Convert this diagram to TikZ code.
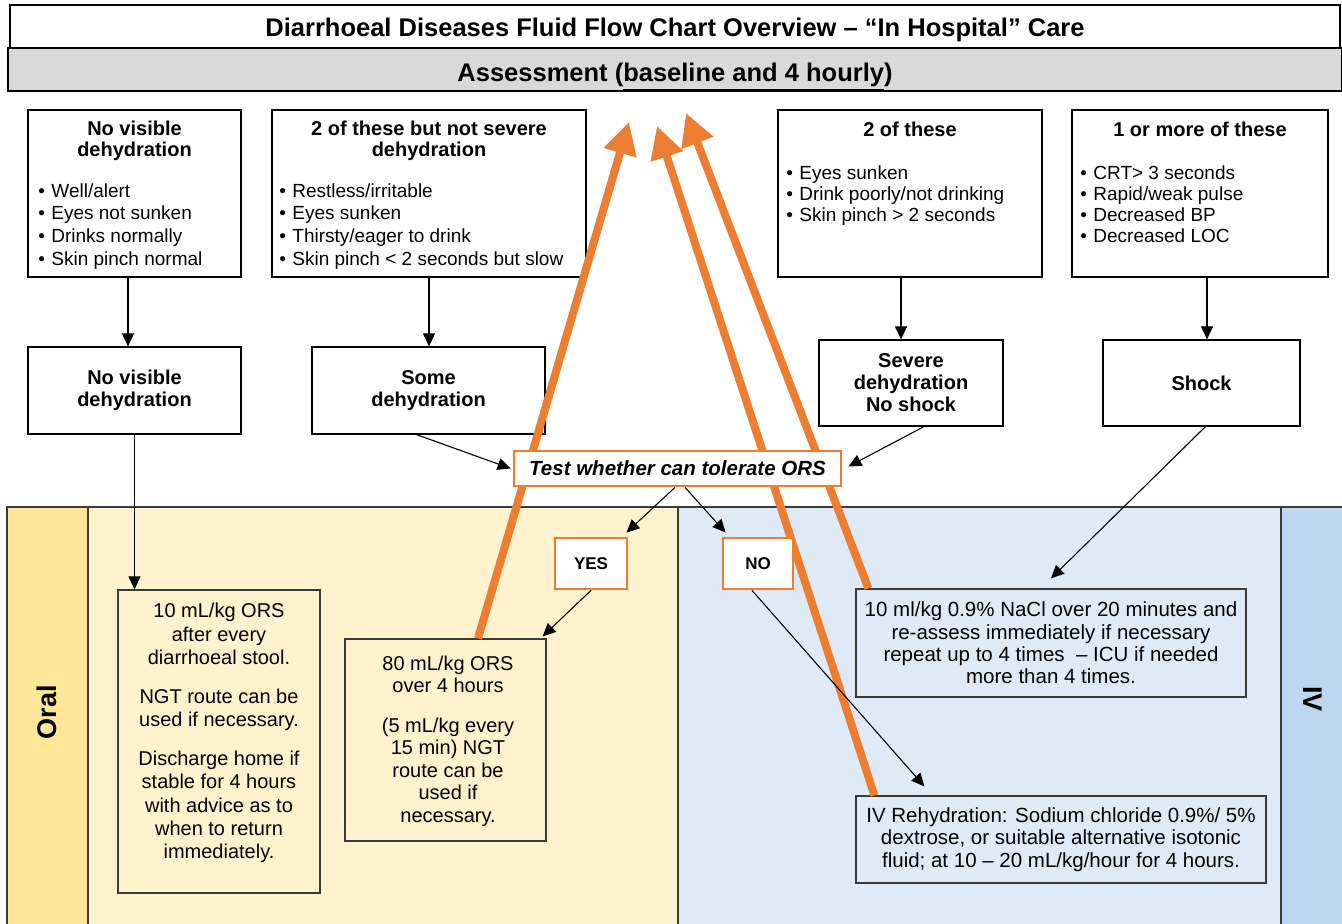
\documentclass[tikz,border=0pt]{standalone}
\usepackage{fontspec}
\setmainfont{Liberation Sans}
\usetikzlibrary{arrows.meta}
\definecolor{orng}{HTML}{ED7D31}
\definecolor{oralstrip}{HTML}{FFE699}
\definecolor{oralbg}{HTML}{FFF2CC}
\definecolor{ivbg}{HTML}{DEEBF7}
\definecolor{ivstrip}{HTML}{BDD7EE}
\definecolor{barfill}{HTML}{D9D9D9}
\definecolor{edge}{HTML}{3A3A3A}
\newcommand{\fsz}[2]{\fontsize{#1}{#2}\selectfont}
\newcommand{\bul}{\makebox[6.5pt][l]{\textbullet}}
\begin{document}
\begin{tikzpicture}[x=0.5pt,y=-0.5pt,
  frame/.style={draw=black, line width=0.6pt, inner sep=0pt},
  pbox/.style={draw=edge, line width=0.6pt, inner sep=0pt},
  obox/.style={draw=orng, line width=1.4pt, fill=white, inner sep=0pt},
  conn/.style={draw=black, line width=0.55pt, -{Triangle[length=6.5pt,width=6pt]}},
  back/.style={draw=orng, line width=4pt, -{Triangle[length=16pt,width=16pt]}},
  head/.style={align=center, font=\fsz{10pt}{10.5pt}\bfseries, inner sep=0pt},
  lstA/.style={align=left, anchor=north west, inner sep=0pt, font=\fsz{9.5pt}{11.35pt}},
  lstC/.style={align=left, anchor=north west, inner sep=0pt, font=\fsz{9.5pt}{10.5pt}},
  statebox/.style={frame, align=center, font=\fsz{10pt}{11pt}\bfseries},
  body/.style={align=center, inner sep=0pt},
]
\useasboundingbox (0,0) rectangle (1342,924);
\fill[white] (0,0) rectangle (1342,924);

% lower panels
\fill[oralstrip] (7,507) rectangle (88,924);
\fill[oralbg] (88,507) rectangle (678,924);
\fill[ivbg] (678,507) rectangle (1281,924);
\fill[ivstrip] (1281,507) rectangle (1342,924);
\draw[edge, line width=0.6pt] (7,924) -- (7,507) -- (1342,507);
\draw[edge, line width=0.6pt] (88,507) -- (88,924) (678,507) -- (678,924) (1281,507) -- (1281,924);
\node[rotate=90, font=\fsz{13.5pt}{16pt}\bfseries] (oral) at (47,712) {Oral};
\node[rotate=-90, font=\fsz{13.5pt}{16pt}\bfseries] (iv) at (1313,699) {IV};

% header
\node[frame, fill=white, minimum width=665pt, minimum height=21.5pt, text height=10.2pt, text depth=0pt, font=\fsz{12.75pt}{15pt}\bfseries] (title) at (675,26.5) {Diarrhoeal Diseases Fluid Flow Chart Overview – “In Hospital” Care};
\node[frame, fill=barfill, minimum width=667pt, minimum height=21.5pt, text height=11.7pt, text depth=0pt, font=\fsz{12.75pt}{15pt}\bfseries] (assess) at (675,69.5) {Assessment (\underline{baseline and 4 hourly})};

% criteria boxes
\node[frame, minimum width=106.5pt, minimum height=83.5pt] (A) at (134.5,193.5) {};
\node[head] (Ah) at (134.5,141) {No visible\\dehydration};
\node[lstA] (Al) at (38,183) {\bul Well/alert\\\bul Eyes not sunken\\\bul Drinks normally\\\bul Skin pinch normal};

\node[frame, minimum width=157pt, minimum height=83.5pt] (B) at (429,193.5) {};
\node[head] (Bh) at (429,141) {2 of these but not severe\\dehydration};
\node[lstA] (Bl) at (279,183) {\bul Restless/irritable\\\bul Eyes sunken\\\bul Thirsty/eager to drink\\\bul Skin pinch {<} 2 seconds but slow};

\node[frame, minimum width=132pt, minimum height=83.5pt] (C) at (910,193.5) {};
\node[head] (Ch) at (910,129) {2 of these};
\node[lstC] (Cl) at (786,165) {\bul Eyes sunken\\\bul Drink poorly/not drinking\\\bul Skin pinch {>} 2 seconds};

\node[frame, minimum width=128pt, minimum height=83.5pt] (D) at (1200,193.5) {};
\node[head] (Dh) at (1200,129) {1 or more of these};
\node[lstC] (Dl) at (1080,165) {\bul CRT{>} 3 seconds\\\bul Rapid/weak pulse\\\bul Decreased BP\\\bul Decreased LOC};

% state boxes
\node[statebox, minimum width=106.5pt, minimum height=43.5pt] (E) at (134.5,390.5) {No visible\\dehydration};
\node[statebox, minimum width=116.5pt, minimum height=43.5pt] (F) at (428.5,390.5) {Some\\dehydration};
\node[statebox, minimum width=92pt, minimum height=43pt] (G) at (911,383) {Severe\\dehydration\\No shock};
\node[statebox, minimum width=98.5pt, minimum height=43pt] (H) at (1201.5,383) {Shock};

% treatment boxes
\node[pbox, fill=oralbg, minimum width=101pt, minimum height=151.5pt] (L1) at (219,741.5) {};
\node[body, font=\fsz{10pt}{11.65pt}] (L1t) at (219,733) {10 mL/kg ORS\\after every\\diarrhoeal stool.\\[7.8pt]NGT route can be\\used if necessary.\\[7.8pt]Discharge home if\\stable for 4 hours\\with advice as to\\when to return\\immediately.};
\node[pbox, fill=oralbg, minimum width=100.5pt, minimum height=101pt] (L2) at (445.5,740) {};
\node[body, font=\fsz{10pt}{11.25pt}] (L2t) at (448,741) {80 mL/kg ORS\\over 4 hours\\[8.5pt](5 mL/kg every\\15 min) NGT\\route can be\\used if\\necessary.};
\node[pbox, fill=ivbg, minimum width=195pt, minimum height=54pt, align=center, font=\fsz{10.25pt}{11.15pt}] (R1) at (1051,643) {10 ml/kg 0.9\% NaCl over 20 minutes and\\re-assess immediately if necessary\\repeat up to 4 times\ \ – ICU if needed\\more than 4 times.};
\node[pbox, fill=ivbg, minimum width=205pt, minimum height=43.5pt, align=center, font=\fsz{10.25pt}{11.15pt}] (R2) at (1061,839.5) {IV Rehydration: Sodium chloride 0.9\%/ 5\%\\dextrose, or suitable alternative isotonic\\fluid; at 10 – 20 mL/kg/hour for 4 hours.};

% orange re-assessment arrows
\coordinate (t1) at (629,122);
\coordinate (t2) at (657,126);
\coordinate (t3) at (686,113);
\draw[back] ([xshift=16.25pt]L2.north) -- (t1);
\draw[back] ([xshift=9.5pt]R2.north west) -- (t2);
\draw[back] ([xshift=6.5pt]R1.north west) -- (t3);

% decision boxes
\node[obox, minimum width=163.5pt, minimum height=17.5pt, font=\fsz{10.25pt}{12pt}\bfseries\itshape] (test) at (677.5,468.5) {Test whether can tolerate ORS};
\node[obox, minimum width=36pt, minimum height=25.5pt, font=\fsz{8.5pt}{10pt}\bfseries] (yes) at (591,563.5) {YES};
\node[obox, minimum width=35pt, minimum height=25.5pt, font=\fsz{8.5pt}{10pt}\bfseries] (no) at (758,563.5) {NO};

% connectors
\draw[conn] ([xshift=-3.25pt]A.south) -- ([xshift=-3.25pt]E.north);
\draw[conn] (B.south) -- (B.south |- F.north);
\draw[conn] ([xshift=-4.5pt]C.south) -- ([xshift=-4.5pt]C.south |- G.north);
\draw[conn] ([xshift=3.5pt]D.south) -- ([xshift=3.5pt]D.south |- H.north);
\draw[conn] (E.south) -- (E.south |- L1.north);
\draw[conn] ([xshift=-6pt]F.south) -- ([xshift=-1pt]test.west);
\draw[conn] ([xshift=6.5pt]G.south) -- ([xshift=3pt,yshift=1pt]test.east);
\draw[conn] ([xshift=-1.25pt]test.south) -- ([xshift=-1pt,yshift=2pt]yes.north east);
\draw[conn] ([xshift=3.75pt]test.south) -- ([xshift=2pt,yshift=2pt]no.north west);
\draw[conn] (yes.south) -- ([xshift=-2pt,yshift=1pt]L2.north east);
\draw[conn] ([xshift=-3pt]no.south) -- ([xshift=34.5pt,yshift=4.5pt]R2.north west);
\draw[conn] ([xshift=2pt]H.south) -- ([yshift=5pt]R1.north);
\end{tikzpicture}
\end{document}
